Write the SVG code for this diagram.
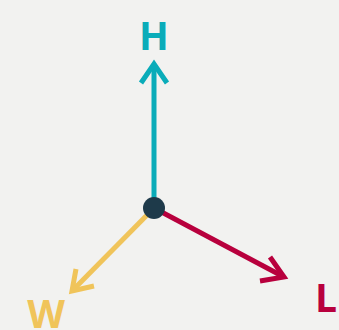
<svg xmlns="http://www.w3.org/2000/svg" width="339" height="330" viewBox="0 0 339 330">
<style>
.ax{fill:none;stroke-width:5;stroke-linecap:butt;stroke-linejoin:miter}
.lbl{font-family:"Open Sans","DejaVu Sans",sans-serif;font-weight:bold;font-size:39px;text-anchor:middle}
</style>
<rect width="339" height="330" fill="#f2f2f0"/>
<g id="connectors">
<g id="axis-h" stroke="#0aacb9" class="ax">
<line x1="154" y1="208" x2="154" y2="64"/>
<polyline points="141,83 154,64 167,83"/>
</g>
<g id="axis-l" stroke="#b8003d" class="ax">
<line x1="154" y1="208" x2="284" y2="277"/>
<polyline points="270,257 284,277 260,281"/>
</g>
<g id="axis-w" stroke="#f0c45a" class="ax">
<line x1="154" y1="208" x2="72" y2="291"/>
<polyline points="76,269 72,291 94,286"/>
</g>
</g>
<g id="origin"><circle cx="154" cy="208" r="11" fill="#1e3a4a"/></g>
<g id="label-h"><text class="lbl" x="154" y="50" fill="#0aacb9">H</text></g>
<g id="label-l"><text class="lbl" x="326" y="312" fill="#b8003d">L</text></g>
<g id="label-w"><text class="lbl" x="46" y="328" fill="#f0c45a">W</text></g>
</svg>
